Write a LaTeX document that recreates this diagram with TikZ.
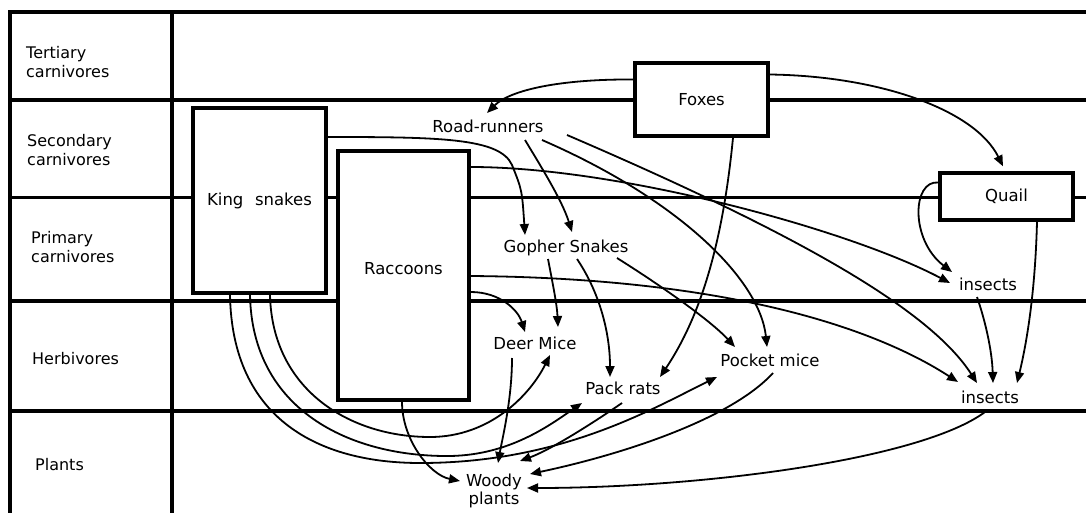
\documentclass[tikz,border=0pt]{standalone}
\usepackage{fontspec}
\setmainfont{DejaVu Sans}
\usetikzlibrary{arrows.meta,calc}
\begin{document}
\begin{tikzpicture}[x=1pt,y=-1pt,
  frameline/.style={line width=3.2pt},
  box/.style={draw,line width=3.4pt,fill=white,inner sep=0pt,font=\fontsize{16.5}{19}\selectfont},
  lbl/.style={inner sep=0pt,font=\fontsize{16.5}{18}\selectfont,align=center},
  side/.style={inner sep=0pt,anchor=west,align=left,font=\fontsize{16}{19}\selectfont},
  conn/.style={line width=1.8pt,-{Triangle[length=11pt,width=9pt]}},
]
\useasboundingbox (0,0) rectangle (1086,513);
% frame and rows
\draw[frameline] (10,513) -- (10,12) -- (1086,12);
\draw[frameline] (172,12) -- (172,513);
\draw[frameline] (10,100) -- (1086,100);
\draw[frameline] (10,197.5) -- (1086,197.5);
\draw[frameline] (10,301) -- (1086,301);
\draw[frameline] (10,411) -- (1086,411);
% side labels
\node[side] (t1) at (26,62.5) {Tertiary\\carnivores};
\node[side] (t2) at (27,150) {Secondary\\carnivores};
\node[side] (t3) at (31,247) {Primary\\carnivores};
\node[side] (t4) at (32,359) {Herbivores};
\node[side] (t5) at (35,465) {Plants};
% boxes
\node[box,minimum width=133pt,minimum height=185pt] (ks) at (259.5,200.5) {King\hspace{0.7em}snakes};
\node[box,minimum width=131pt,minimum height=249pt,text depth=14pt] (rac) at (403.5,275.5) {Raccoons};
\node[box,minimum width=133pt,minimum height=73pt] (fox) at (701.5,99.5) {Foxes};
\node[box,minimum width=133pt,minimum height=47pt] (qu) at (1006.5,196.5) {Quail};
% text nodes
\node[lbl] (rr) at (488,126) {Road-runners};
\node[lbl] (gs) at (566,248) {Gopher Snakes};
\node[lbl] (dm) at (535,343) {Deer Mice};
\node[lbl] (pr) at (623,388) {Pack rats};
\node[lbl] (pm) at (770,360) {Pocket mice};
\node[lbl] (ui) at (988,284) {insects};
\node[lbl] (li) at (990,397) {insects};
\node[lbl] (wp) at (494,491) {Woody\\plants};
% connectors
\draw[conn] ($(fox.west)+(0,-20)$) .. controls (560,79) and (510,90) .. ($(rr)+(-1,-13)$);
\draw[conn] ($(fox.east)+(0,-25)$) .. controls (880,76) and (975,110) .. ($(qu.north)+(-3.5,-5)$);
\draw[conn] ($(fox.south)+(31.5,0)$) .. controls (724,230) and (705,310) .. ($(pr)+(37,-11)$);
\draw[conn] ($(qu.west)+(0,-14)$) .. controls (912,180) and (910,240) .. ($(ui)+(-36,-12)$);
\draw[conn] ($(qu.south)+(30.5,0)$) .. controls (1035,300) and (1025,350) .. ($(li)+(27,-14)$);
\draw[conn] ($(ui)+(-11,13)$) .. controls (985,320) and (992,350) .. ($(li)+(3,-14)$);
\draw[conn] ($(rr)+(79,9)$) .. controls (800,235) and (930,310) .. ($(li)+(-13,-14)$);
\draw[conn] ($(rac.east)+(0,-108.5)$) .. controls (620,167) and (850,230) .. ($(ui)+(-38,-1)$);
\draw[conn] ($(rac.east)+(0,0.5)$) .. controls (720,278) and (870,325) .. ($(li)+(-32,-15)$);
\draw[conn] ($(rac.east)+(0,16.5)$) .. controls (500,292) and (518,310) .. ($(dm)+(-10,-11)$);
\draw[conn] ($(rac.south)+(-1.5,0)$) .. controls (402,440) and (430,475) .. ($(wp)+(-34,-10)$);
\draw[conn] ($(ks.east)+(0,-63.5)$) .. controls (440,137) and (500,138) .. (512,165) .. controls (522,190) .. ($(gs)+(-41,-13)$);
\draw[conn] ($(rr)+(37,14)$) .. controls (540,165) and (562,200) .. ($(gs)+(6,-16)$);
\draw[conn] ($(rr)+(54,14)$) .. controls (680,200) and (760,280) .. ($(pm)+(-3,-13)$);
\draw[conn] ($(gs)+(-18,11)$) .. controls (553,285) and (557,305) .. ($(dm)+(23,-16)$);
\draw[conn] ($(gs)+(11,11)$) .. controls (598,290) and (610,330) .. ($(pr)+(-13,-11)$);
\draw[conn] ($(gs)+(51,10)$) .. controls (660,285) and (710,320) .. ($(pm)+(-35,-13)$);
\draw[conn] ($(ks.south)+(10.5,0)$) .. controls (272,390) and (350,437) .. (430,437) .. controls (490,437) and (530,395) .. ($(dm)+(15,12)$);
\draw[conn] ($(ks.south)+(-9.5,0)$) .. controls (252,410) and (350,457) .. (450,456) .. controls (510,455) and (550,425) .. ($(pr)+(-41,15)$);
\draw[conn] ($(ks.south)+(-29.5,0)$) .. controls (232,420) and (320,463) .. (420,463) .. controls (560,463) and (650,410) .. ($(pm)+(-53,17)$);
\draw[conn] ($(dm)+(-23,15)$) .. controls (512,400) and (502,440) .. ($(wp)+(4,-28)$);
\draw[conn] ($(pr)+(-1,15)$) .. controls (590,425) and (550,450) .. ($(wp)+(26,-30)$);
\draw[conn] ($(pm)+(3,13)$) .. controls (730,420) and (620,455) .. ($(wp)+(36,-17)$);
\draw[conn] ($(li)+(-5,15)$) .. controls (920,460) and (700,488) .. ($(wp)+(33,-3)$);
\end{tikzpicture}
\end{document}
